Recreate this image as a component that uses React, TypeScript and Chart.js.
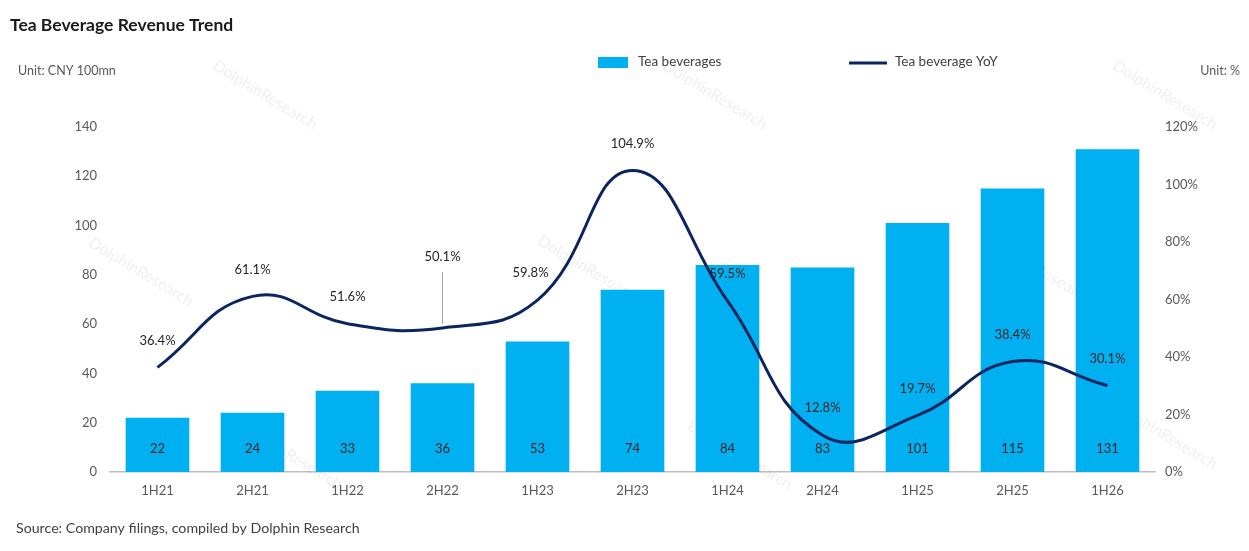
import React, { useEffect, useRef } from "react";
import { Chart, registerables } from "chart.js";

Chart.register(...registerables);

const categories = ["1H21", "2H21", "1H22", "2H22", "1H23", "2H23", "1H24", "2H24", "1H25", "2H25", "1H26"];
const revenue = [22, 24, 33, 36, 53, 74, 84, 83, 101, 115, 131];
const yoy = [36.4, 61.1, 51.6, 50.1, 59.8, 104.9, 59.5, 12.8, 19.7, 38.4, 30.1];
const leftTicks = [0, 20, 40, 60, 80, 100, 120, 140];
const rightTicks = [0, 20, 40, 60, 80, 100, 120];

const TITLE = "Tea Beverage Revenue Trend";
const UNIT_LEFT = "Unit: CNY 100mn";
const UNIT_RIGHT = "Unit: %";
const SOURCE = "Source: Company filings, compiled by Dolphin Research";
const BAR_NAME = "Tea beverages";
const LINE_NAME = "Tea beverage YoY";
const WATERMARK = "DolphinResearch";

const BAR_COLOR = "#00B0F0";
const LINE_COLOR = "#0B2560";
const TEXT = "#404040";
const FONT = "Lato, 'Open Sans', sans-serif";

const W = 1249;
const H = 551;

const wmSpots = [
  [265, 95], [715, 95], [1165, 95],
  [141, 272], [590, 270], [1040, 270],
  [290, 455], [740, 455], [1165, 435],
];

const decorPlugin = {
  id: "decor",
  beforeDatasetsDraw(chart: any) {
    const ctx = chart.ctx;
    ctx.save();
    ctx.fillStyle = "rgba(0,0,0,0.065)";
    ctx.font = `16px ${FONT}`;
    ctx.textAlign = "center";
    ctx.textBaseline = "middle";
    wmSpots.forEach(([x, y]) => {
      ctx.save();
      ctx.translate(x, y);
      ctx.rotate((31 * Math.PI) / 180);
      ctx.fillText(WATERMARK, 0, 0);
      ctx.restore();
    });
    ctx.restore();
  },
  afterDraw(chart: any) {
    const ctx = chart.ctx;
    ctx.save();
    ctx.fillStyle = "#1a1a1a";
    ctx.font = `bold 17.5px ${FONT}`;
    ctx.textAlign = "left";
    ctx.textBaseline = "middle";
    ctx.fillText(TITLE, 10, 25);
    ctx.fillStyle = "#595959";
    ctx.font = `12.5px ${FONT}`;
    ctx.fillText(UNIT_LEFT, 18, 71);
    ctx.textAlign = "right";
    ctx.fillText(UNIT_RIGHT, 1240, 71);
    ctx.textAlign = "left";
    ctx.fillStyle = TEXT;
    ctx.font = `14.2px ${FONT}`;
    ctx.fillText(SOURCE, 16, 528);
    ctx.fillStyle = BAR_COLOR;
    ctx.fillRect(598, 57, 30, 11);
    ctx.fillStyle = TEXT;
    ctx.font = `13.5px ${FONT}`;
    ctx.fillText(BAR_NAME, 638, 62);
    ctx.strokeStyle = LINE_COLOR;
    ctx.lineWidth = 3;
    ctx.beginPath();
    ctx.moveTo(849, 63);
    ctx.lineTo(887, 63);
    ctx.stroke();
    ctx.fillText(LINE_NAME, 895, 62);
    ctx.restore();
  },
  afterDatasetsDraw(chart: any) {
    const ctx = chart.ctx;
    ctx.save();
    ctx.font = `13px ${FONT}`;
    ctx.textAlign = "center";
    ctx.textBaseline = "middle";
    ctx.fillStyle = "#262626";
    const barMeta = chart.getDatasetMeta(1);
    barMeta.data.forEach((el: any, i: number) => {
      ctx.fillText(String(revenue[i]), el.x, el.base - 23);
    });
    const lineMeta = chart.getDatasetMeta(0);
    lineMeta.data.forEach((el: any, i: number) => {
      const label = yoy[i].toFixed(1) + "%";
      let x = el.x;
      let y = el.y - 27;
      if (i === 3) {
        y = el.y - 71;
        ctx.strokeStyle = "#a6a6a6";
        ctx.lineWidth = 1;
        ctx.beginPath();
        ctx.moveTo(x, y + 15);
        ctx.lineTo(x, el.y - 4);
        ctx.stroke();
      }
      if (i === 4) x -= 7;
      ctx.fillText(label, x, y);
    });
    ctx.restore();
  },
};

export default function App() {
  const ref = useRef<HTMLCanvasElement | null>(null);
  useEffect(() => {
    document.body.style.margin = "0";
    document.body.style.background = "#ffffff";
    const canvas = ref.current!;
    const chart = new Chart(canvas, {
      type: "bar",
      data: {
        labels: categories,
        datasets: [
          {
            type: "line",
            label: LINE_NAME,
            data: yoy,
            yAxisID: "y1",
            borderColor: LINE_COLOR,
            borderWidth: 3,
            pointRadius: 0,
            tension: 0.45,
            fill: false,
            order: 0,
          } as any,
          {
            type: "bar",
            label: BAR_NAME,
            data: revenue,
            yAxisID: "y",
            backgroundColor: BAR_COLOR,
            categoryPercentage: 1,
            barPercentage: 0.67,
            order: 1,
          },
        ],
      },
      options: {
        responsive: false,
        animation: false,
        maintainAspectRatio: false,
        layout: { padding: { top: 127, left: 0, right: 0, bottom: 0 } },
        plugins: { legend: { display: false }, tooltip: { enabled: false }, title: { display: false } },
        scales: {
          x: {
            grid: { display: false, drawTicks: false },
            border: { display: true, color: "#bfbfbf", width: 1.5 },
            ticks: { color: "#595959", font: { family: FONT, size: 13 }, padding: 11, maxRotation: 0 },
            afterFit: (s: any) => { s.height = 79; },
          },
          y: {
            position: "left",
            min: 0,
            max: 140,
            afterBuildTicks: (s: any) => { s.ticks = leftTicks.map((v) => ({ value: v })); },
            grid: { display: false, drawTicks: false },
            border: { display: false },
            ticks: { color: "#595959", font: { family: FONT, size: 13 }, padding: 13 },
            afterFit: (s: any) => { s.width = 110; },
          },
          y1: {
            position: "right",
            min: 0,
            max: 120,
            afterBuildTicks: (s: any) => { s.ticks = rightTicks.map((v) => ({ value: v })); },
            grid: { display: false, drawTicks: false },
            border: { display: false },
            ticks: {
              color: "#595959",
              font: { family: FONT, size: 13 },
              padding: 10,
              callback: (v: any) => v + "%",
            },
            afterFit: (s: any) => { s.width = W - 1155; },
          },
        },
      },
      plugins: [decorPlugin],
    });
    return () => chart.destroy();
  }, []);
  return (
    <div style={{ width: W, height: H, background: "#fff" }}>
      <canvas ref={ref} width={W} height={H} style={{ width: W, height: H, display: "block" }} />
    </div>
  );
}
